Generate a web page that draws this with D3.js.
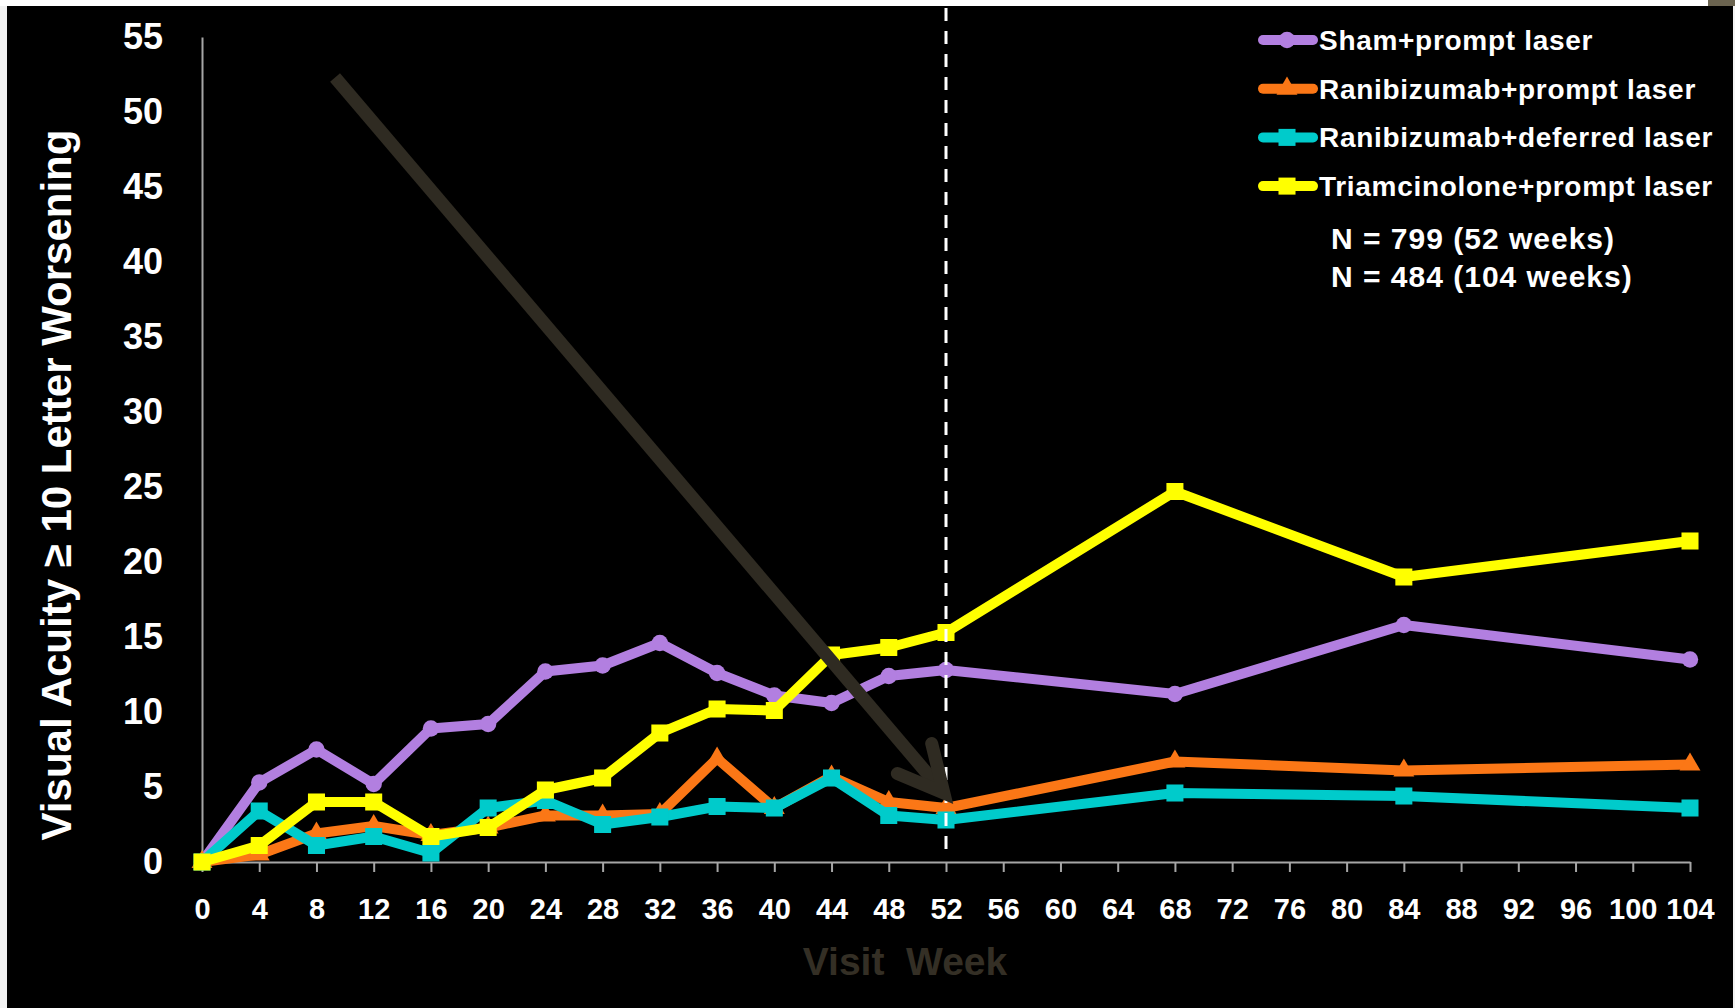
<!DOCTYPE html>
<html>
<head>
<meta charset="utf-8">
<script src="https://cdn.jsdelivr.net/npm/d3@7"></script>
<style>
  html, body { margin: 0; padding: 0; background: #ffffff; }
  svg { display: block; }
  text { font-family: "Liberation Sans", Arial, Helvetica, sans-serif; }
</style>
</head>
<body>
<svg id="chart" width="1735" height="1008"></svg>
<script>
// Datos (porcentaje con empeoramiento >= 10 letras)
const weeks = [0, 4, 8, 12, 16, 20, 24, 28, 32, 36, 40, 44, 48, 52, 68, 84, 104];
const sham = [0, 5.3, 7.5, 5.2, 8.9, 9.2, 12.7, 13.1, 14.6, 12.6, 11.1, 10.6, 12.4, 12.8, 11.2, 15.8, 13.5];
const raniPrompt = [0, 0.5, 1.9, 2.4, 1.8, 2.3, 3.1, 3.1, 3.2, 6.9, 3.6, 5.7, 4.0, 3.6, 6.7, 6.1, 6.5];
const raniDeferred = [0, 3.4, 1.1, 1.7, 0.6, 3.6, 4.1, 2.5, 3.0, 3.7, 3.6, 5.6, 3.1, 2.8, 4.6, 4.4, 3.6];
const triam = [0, 1.1, 4.0, 4.0, 1.7, 2.3, 4.8, 5.6, 8.6, 10.2, 10.1, 13.8, 14.3, 15.3, 24.7, 19.0, 21.4];

const seriesNames = ["Sham+prompt laser", "Ranibizumab+prompt laser", "Ranibizumab+deferred laser", "Triamcinolone+prompt laser"];
const seriesValues = [sham, raniPrompt, raniDeferred, triam];
const seriesColors = ["#b27fe0", "#fb7716", "#00cbcb", "#ffff00"];
const seriesSymbols = [d3.symbolCircle, d3.symbolTriangle, d3.symbolSquare, d3.symbolSquare];
const symbolSizes = [210, 190, 290, 290];

const xTicks = d3.range(0, 105, 4);
const yTicks = d3.range(0, 56, 5);
const notes = ["N = 799 (52 weeks)", "N = 484 (104 weeks)"];

// flecha de anotación en unidades de datos: [semana, valor]
const arrowLine = [[9.3, 52.3], [51.85, 4.6]];
const arrowHead = [[51.0, 7.9], [51.85, 4.6], [48.6, 5.9]];

const svg = d3.select("#chart");

// fondo: franja clara a la izquierda, blanco arriba, negro el resto
svg.append("rect").attr("x", 0).attr("y", 0).attr("width", 1735).attr("height", 1008).attr("fill", "#f2f2f2");
svg.append("rect").attr("x", 0).attr("y", 0).attr("width", 1735).attr("height", 6).attr("fill", "#ffffff");
svg.append("rect").attr("x", 1708).attr("y", 0).attr("width", 27).attr("height", 6).attr("fill", "#6b6450");
svg.append("rect").attr("x", 7).attr("y", 6).attr("width", 1726).attr("height", 1002).attr("fill", "#000000");

// escalas
const xScale = d3.scaleLinear().domain([0, 104]).range([202, 1690]);
const yScale = d3.scaleLinear().domain([0, 55]).range([862, 37]);

// eje X
const xAxis = svg.append("g")
    .attr("transform", "translate(0,862)")
    .call(d3.axisBottom(xScale).tickValues(xTicks).tickSize(10).tickSizeOuter(0).tickPadding(26));
xAxis.select(".domain").attr("stroke", "#a6a6a6").attr("stroke-width", 2);
xAxis.selectAll(".tick line").attr("stroke", "#a6a6a6").attr("stroke-width", 2);
xAxis.selectAll(".tick text")
    .attr("fill", "#ffffff")
    .style("font-size", "29px")
    .style("font-weight", "bold")
    .style("font-family", "'Liberation Sans', Arial, sans-serif");

// eje Y
const yAxis = svg.append("g")
    .attr("transform", "translate(202,0)")
    .call(d3.axisLeft(yScale).tickValues(yTicks).tickSize(0).tickSizeOuter(0).tickPadding(39));
yAxis.select(".domain").attr("stroke", "#a6a6a6").attr("stroke-width", 2);
yAxis.selectAll(".tick text")
    .attr("fill", "#ffffff")
    .style("font-size", "36px")
    .style("font-weight", "bold")
    .style("font-family", "'Liberation Sans', Arial, sans-serif");

// títulos de ejes
svg.append("text")
    .attr("transform", "translate(71,485) rotate(-90)")
    .attr("text-anchor", "middle")
    .attr("fill", "#ffffff")
    .style("font-size", "42px")
    .style("font-weight", "bold")
    .text("Visual Acuity \u2265 10 Letter Worsening");

svg.append("text")
    .attr("x", 905)
    .attr("y", 975)
    .attr("text-anchor", "middle")
    .attr("fill", "#342f25")
    .style("font-size", "39px")
    .style("font-weight", "bold")
    .style("white-space", "pre")
    .text("Visit  Week");

// series
const line = d3.line()
    .x(d => xScale(d[0]))
    .y(d => yScale(d[1]));

seriesValues.forEach(function (vals, k) {
    const pts = weeks.map((w, i) => [w, vals[i]]);
    const g = svg.append("g");
    g.append("path")
        .datum(pts)
        .attr("d", line)
        .attr("fill", "none")
        .attr("stroke", seriesColors[k])
        .attr("stroke-width", 10)
        .attr("stroke-linejoin", "round");
    g.selectAll("path.mark")
        .data(pts)
        .enter()
        .append("path")
        .attr("class", "mark")
        .attr("d", d3.symbol().type(seriesSymbols[k]).size(symbolSizes[k]))
        .attr("transform", d => "translate(" + xScale(d[0]) + "," + yScale(d[1]) + ")")
        .attr("fill", seriesColors[k]);
});

// línea discontinua en la semana 52
svg.append("line")
    .attr("x1", xScale(52)).attr("x2", xScale(52))
    .attr("y1", 8).attr("y2", 857)
    .attr("stroke", "#ffffff")
    .attr("stroke-width", 3)
    .attr("stroke-dasharray", "13,10");

// flecha
svg.append("path")
    .attr("d", line(arrowLine))
    .attr("fill", "none")
    .attr("stroke", "#2f2b22")
    .attr("stroke-width", 13);
svg.append("path")
    .attr("d", line(arrowHead))
    .attr("fill", "none")
    .attr("stroke", "#2f2b22")
    .attr("stroke-width", 13)
    .attr("stroke-linecap", "round")
    .attr("stroke-linejoin", "miter");

// leyenda
const legend = svg.append("g");
seriesNames.forEach(function (name, k) {
    const cy = 40 + k * 48.7;
    legend.append("line")
        .attr("x1", 1263).attr("x2", 1313)
        .attr("y1", cy).attr("y2", cy)
        .attr("stroke", seriesColors[k])
        .attr("stroke-width", 10)
        .attr("stroke-linecap", "round");
    legend.append("path")
        .attr("d", d3.symbol().type(seriesSymbols[k]).size(symbolSizes[k]))
        .attr("transform", "translate(1287," + cy + ")")
        .attr("fill", seriesColors[k]);
    legend.append("text")
        .attr("x", 1319)
        .attr("y", cy + 10)
        .attr("fill", "#ffffff")
        .style("font-size", "28px")
        .style("font-weight", "bold")
        .style("letter-spacing", "0.7px")
        .text(name);
});

notes.forEach(function (t, i) {
    svg.append("text")
        .attr("x", 1331)
        .attr("y", 249 + i * 38)
        .attr("fill", "#ffffff")
        .style("font-size", "30px")
        .style("font-weight", "bold")
        .style("letter-spacing", "1px")
        .text(t);
});
</script>
</body>
</html>
